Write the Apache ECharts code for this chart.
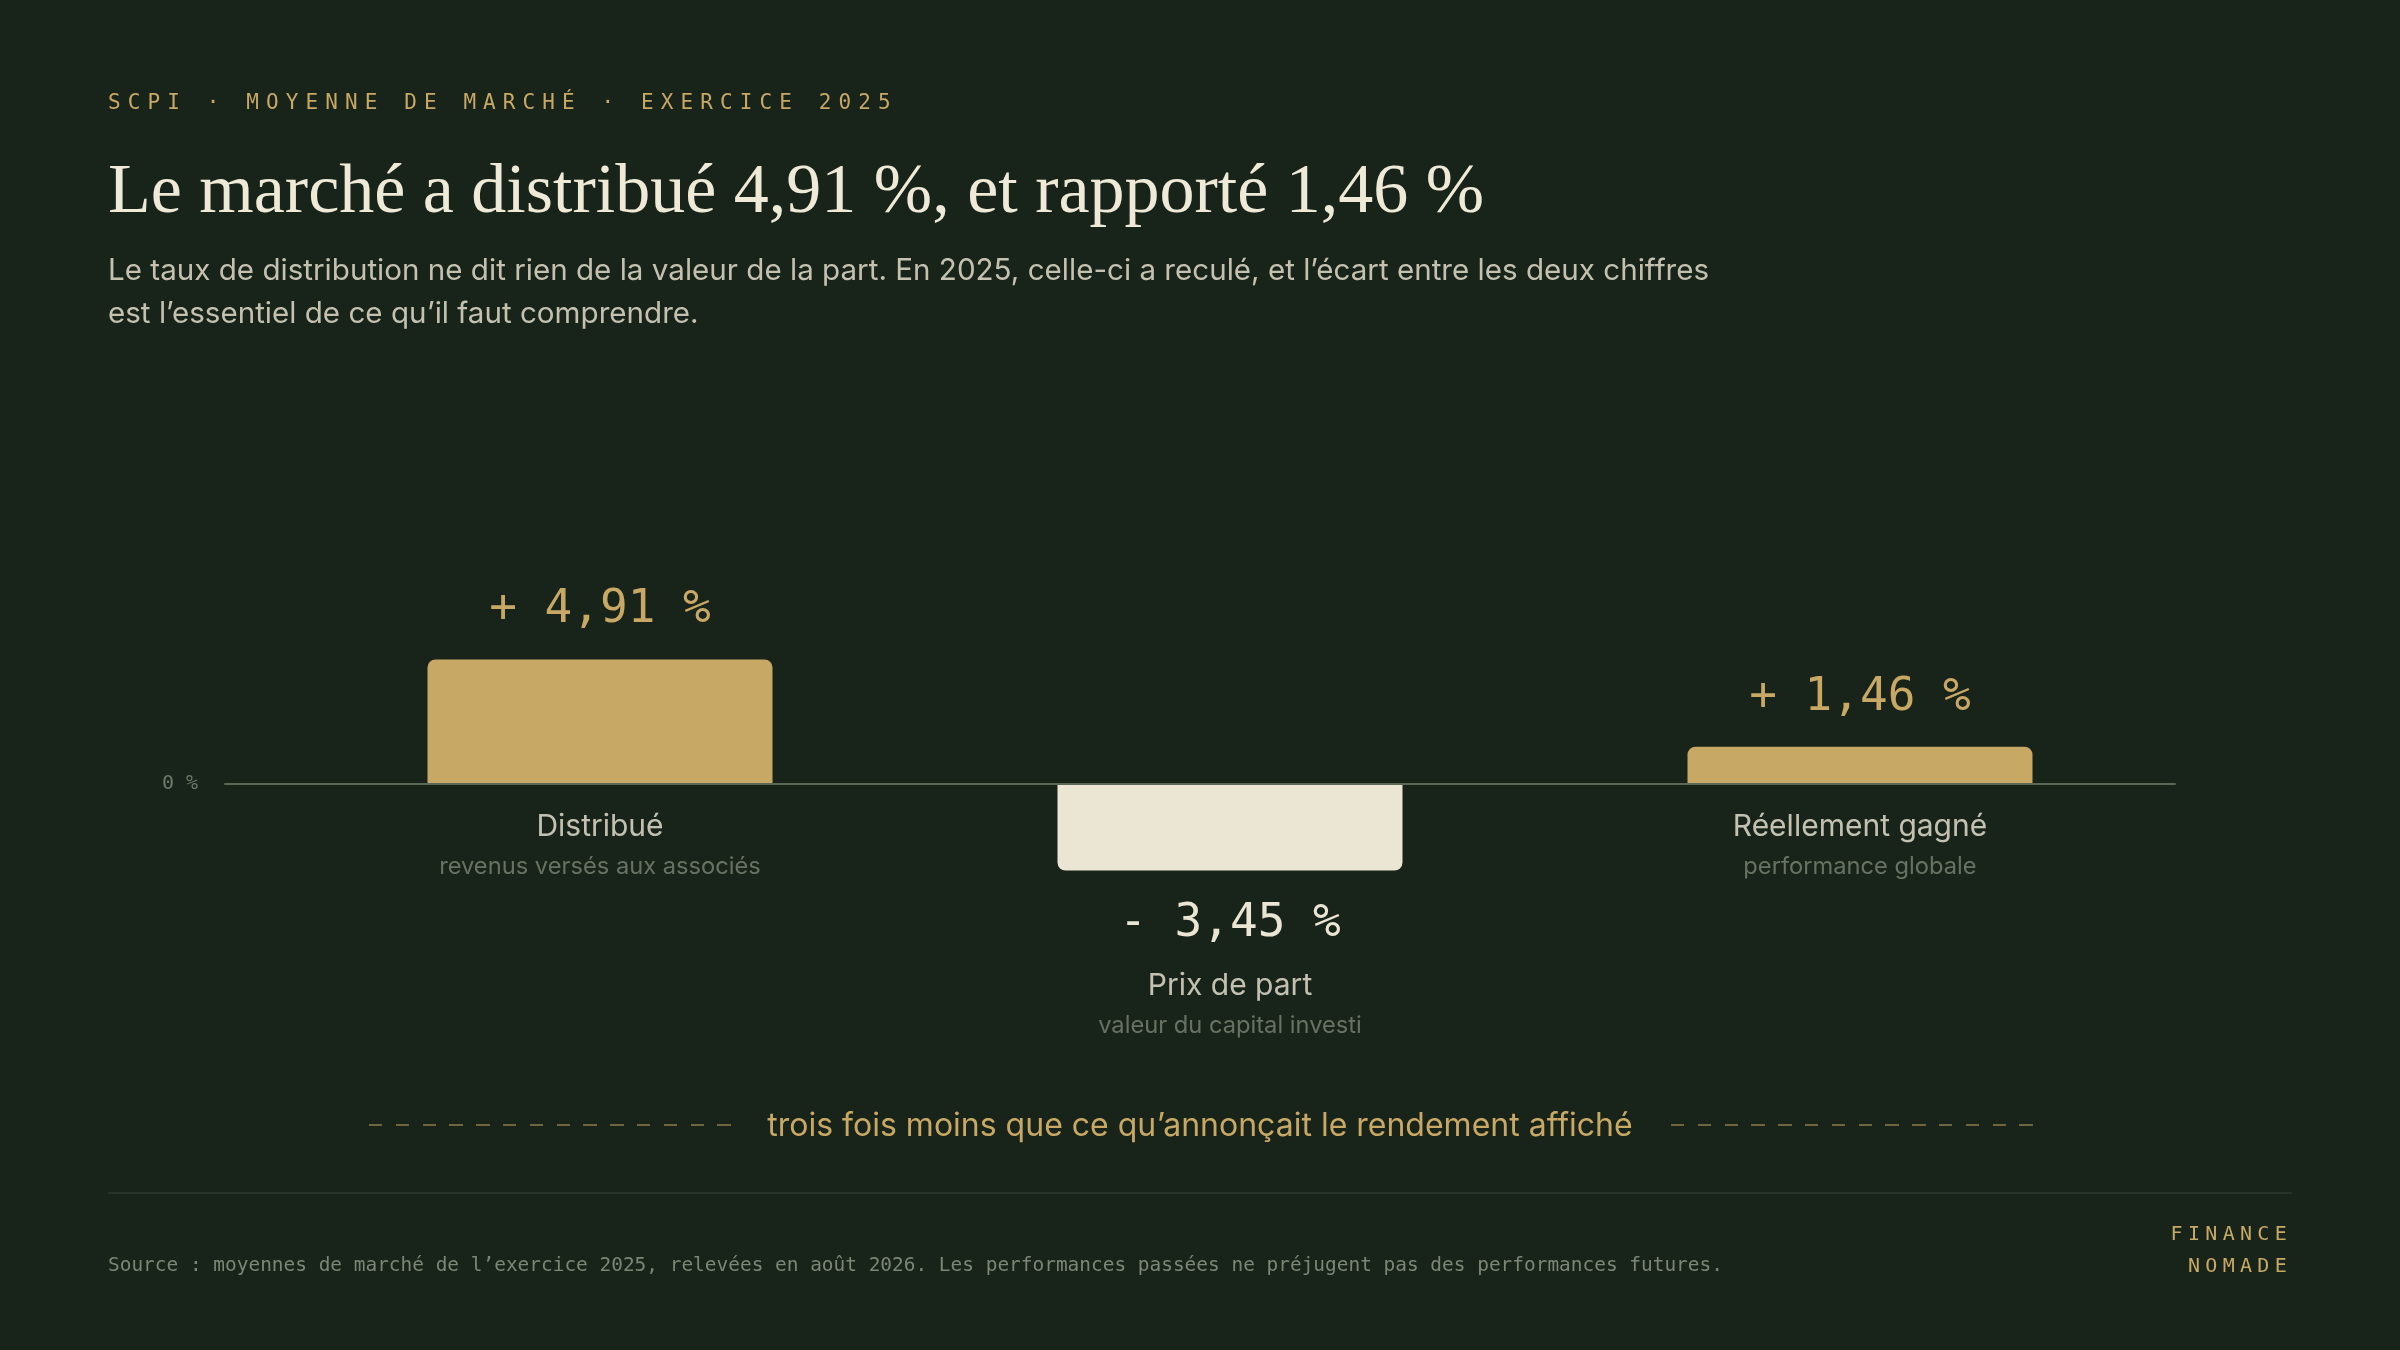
<!DOCTYPE html>
<html lang="fr">
<head>
<meta charset="utf-8">
<title>SCPI · Moyenne de marché · Exercice 2025</title>
<script src="https://cdn.jsdelivr.net/npm/echarts@6/dist/echarts.min.js"></script>
<style>
  html, body { margin: 0; padding: 0; background: #182319; }
  #page { position: relative; width: 2400px; height: 1350px; background: #182319; overflow: hidden; }
  #chart { position: absolute; left: 0; top: 0; width: 2400px; height: 1350px; }
  .abs { position: absolute; white-space: nowrap; }
  #kicker { left: 108px; top: 92px; font-family: "DejaVu Sans Mono", monospace; font-size: 21px; line-height: 21px; letter-spacing: 7.1px; color: #c8a865; }
  #title { left: 108px; top: 154px; font-family: "Liberation Serif", serif; font-size: 70px; line-height: 70px; color: #efe9d8; }
  #subtitle { left: 108px; top: 248px; font-family: Inter, sans-serif; font-size: 29.6px; line-height: 43px; color: #c4c1b1; }
  #takeaway { left: 0; width: 2400px; top: 1105px; text-align: center; font-family: Inter, sans-serif; font-size: 32px; line-height: 40px; color: #c8a865; }
  .dash { position: absolute; top: 1124px; height: 2px; background: repeating-linear-gradient(90deg, rgba(200,168,101,0.5) 0 13.4px, transparent 13.4px 26.8px); }
  #rule { position: absolute; left: 108px; top: 1192px; width: 2184px; height: 2px; background: #263427; }
  #source { left: 108px; top: 1255px; font-family: "DejaVu Sans Mono", monospace; font-size: 19.45px; line-height: 20px; color: #7b8776; }
  #brand { right: 108px; top: 1218px; text-align: right; font-family: "DejaVu Sans Mono", monospace; font-size: 20px; line-height: 31.5px; letter-spacing: 5.3px; color: #c8a865; }
</style>
</head>
<body>
<div id="page">
  <div id="chart"></div>
  <div class="abs" id="kicker">SCPI · MOYENNE DE MARCHÉ · EXERCICE 2025</div>
  <div class="abs" id="title">Le marché a distribué 4,91 %, et rapporté 1,46 %</div>
  <div class="abs" id="subtitle">Le taux de distribution ne dit rien de la valeur de la part. En 2025, celle-ci a reculé, et l’écart entre les deux chiffres<br>est l’essentiel de ce qu’il faut comprendre.</div>
  <div class="dash" style="left:369px;width:362px;"></div>
  <div class="dash" style="left:1671px;width:362px;"></div>
  <div class="abs" id="takeaway">trois fois moins que ce qu’annonçait le rendement affiché</div>
  <div id="rule"></div>
  <div class="abs" id="source">Source : moyennes de marché de l’exercice 2025, relevées en août 2026. Les performances passées ne préjugent pas des performances futures.</div>
  <div class="abs" id="brand">FINANCE<br>NOMADE</div>
</div>
<script>
// ---- data ----
const categories = ['Distribué', 'Prix de part', 'Réellement gagné'];
const subLabels = ['revenus versés aux associés', 'valeur du capital investi', 'performance globale'];
const values = [4.91, -3.45, 1.46];
const zeroTickLabel = '0 %';
const yMin = -6, yMax = 6, yInterval = 6;

// ---- styles ----
const GOLD = '#c8a865', CREAM = '#ebe5d3', MUTED = '#7a8675', AXIS = '#5a6858';
const MONO = '"DejaVu Sans Mono", monospace';
const SANS = 'Inter, sans-serif';

function fmtValue(v) {
  return (v >= 0 ? '+ ' : '- ') + Math.abs(v).toFixed(2).replace('.', ',') + ' %';
}

const gridTop = 632, gridHeight = 303;

const barData = values.map(v => ({
  value: v,
  itemStyle: { color: v >= 0 ? GOLD : CREAM, borderRadius: v >= 0 ? [8, 8, 0, 0] : [0, 0, 8, 8] },
  label: {
    show: true,
    position: v >= 0 ? 'top' : 'bottom',
    distance: v >= 0 ? 26 : 30,
    color: v >= 0 ? GOLD : CREAM
  }
}));

const catData = values.map((v, i) => ({
  value: [i, Math.min(v, 0)],
  label: { distance: v >= 0 ? 23 : 95 }
}));

const chart = echarts.init(document.getElementById('chart'), null, { renderer: 'canvas' });
chart.setOption({
  animation: false,
  backgroundColor: 'transparent',
  grid: [
    { left: 285, right: 225, top: gridTop, height: gridHeight },
    { left: 225, right: 225, top: gridTop, height: gridHeight }
  ],
  xAxis: [
    { type: 'category', gridIndex: 0, data: categories, show: false },
    {
      type: 'value', gridIndex: 1, min: 0, max: 1, z: 10,
      axisLine: { show: true, onZero: true, lineStyle: { color: AXIS, width: 2 } },
      axisTick: { show: false }, axisLabel: { show: false }, splitLine: { show: false }
    }
  ],
  yAxis: [
    { type: 'value', gridIndex: 0, min: yMin, max: yMax, show: false },
    {
      type: 'value', gridIndex: 1, min: yMin, max: yMax, interval: yInterval,
      axisLine: { show: false }, axisTick: { show: false }, splitLine: { show: false },
      axisLabel: {
        margin: 27, color: '#6e7a6b', fontFamily: MONO, fontSize: 20,
        formatter: v => (v === 0 ? zeroTickLabel : '')
      }
    }
  ],
  series: [
    {
      type: 'bar', xAxisIndex: 0, yAxisIndex: 0, barWidth: 345, silent: true,
      data: barData,
      label: { fontFamily: MONO, fontSize: 46, lineHeight: 46, formatter: p => fmtValue(p.value) }
    },
    {
      type: 'scatter', xAxisIndex: 0, yAxisIndex: 0, symbolSize: 0, silent: true, z: 5,
      data: catData,
      label: {
        show: true, position: 'bottom', align: 'center',
        formatter: p => '{c|' + categories[p.dataIndex] + '}\n{s|' + subLabels[p.dataIndex] + '}',
        rich: {
          c: { fontFamily: SANS, fontSize: 30, lineHeight: 40, color: '#efe9d8' },
          s: { fontFamily: SANS, fontSize: 23.7, lineHeight: 40, color: MUTED }
        }
      }
    }
  ]
});
</script>
</body>
</html>
